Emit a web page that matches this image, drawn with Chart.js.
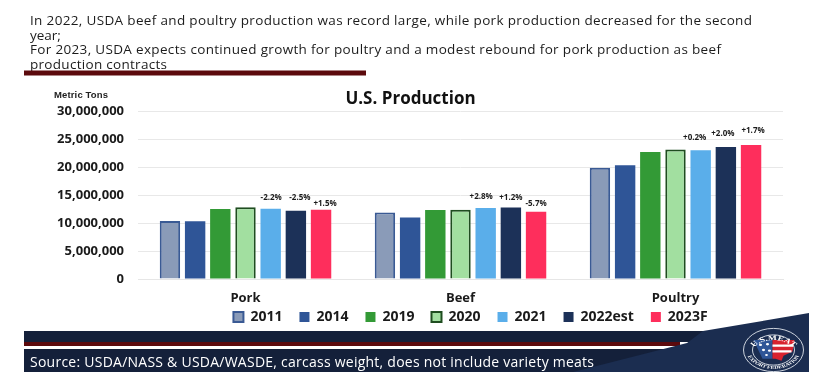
<!DOCTYPE html>
<html><head><meta charset="utf-8">
<style>
html,body{margin:0;padding:0;background:#fff;width:820px;height:380px;overflow:hidden}
#c{position:absolute;left:0;top:0;width:820px;height:380px}
#o{position:absolute;left:0;top:0;pointer-events:none}
</style>
<script src="https://cdn.jsdelivr.net/npm/chart.js@4"></script>
</head><body>
<canvas id="c" width="820" height="380"></canvas>
<svg id="o" width="820" height="380" viewBox="0 0 820 380" font-family="'Open Sans'">
  <g fill="#1c1c1c" font-size="13.5">
    <text x="30" y="25" textLength="722" lengthAdjust="spacing">In 2022, USDA beef and poultry production was record large, while pork production decreased for the second</text>
    <text x="30" y="40">year;</text>
    <text x="30" y="54" textLength="691" lengthAdjust="spacing">For 2023, USDA expects continued growth for poultry and a modest rebound for pork production as beef</text>
    <text x="30" y="69" textLength="137" lengthAdjust="spacing">production contracts</text>
  </g>
  <rect x="24" y="70.5" width="342" height="5" fill="#5c0a0d"/>
  <text x="54" y="98" font-size="9.5" font-weight="700" fill="#222" textLength="54" font-family="'Liberation Sans'">Metric Tons</text>
  <rect x="24" y="331" width="700" height="11" fill="#14203a"/>
  <rect x="24" y="342" width="656" height="4" fill="#5c0a0d"/>
  <rect x="24" y="349" width="656" height="23" fill="#14203a"/>
  <path d="M809 313 L703 331 L687 343 L573 372 L809 372 Z" fill="#1b2d50"/>
  <text x="30" y="367" font-size="14" fill="#fff" textLength="564" lengthAdjust="spacing">Source: USDA/NASS &amp; USDA/WASDE, carcass weight, does not include variety meats</text>
  <g transform="translate(773.5 350) scale(1 0.72)">
    <circle r="30" fill="none" stroke="#e8ecf2" stroke-width="1"/>
    <circle r="21" fill="none" stroke="#e8ecf2" stroke-width="1"/>
    <path d="M-20 -14 H-1 V12 H-11 Z" fill="#2f5597"/>
    <path d="M-1 -14 H21 L19 2 L10 8 L8 15 L2 12 L-1 12 Z" fill="#d8232f"/>
    <path d="M-1 -6 H20 M-1 2 H18" stroke="#fff" stroke-width="3"/>
    <g fill="#fff"><circle cx="-13" cy="-7" r="1.6"/><circle cx="-6" cy="-8" r="1.6"/><circle cx="-10" cy="0" r="1.6"/><circle cx="-4" cy="1" r="1.6"/><circle cx="-7" cy="7" r="1.4"/></g>
    <defs>
      <path id="at" d="M-24 6 A24.5 24.5 0 0 1 24 6"/>
      <path id="ab" d="M-28 -2 A28 28 0 0 0 28 -2"/>
    </defs>
    <text font-size="9.5" font-weight="700" fill="#fff" font-family="'Liberation Serif'" text-anchor="middle"><textPath href="#at" startOffset="50%">U.S.MEAT</textPath></text>
    <text font-size="6" font-weight="700" fill="#fff" font-family="'Liberation Serif'" text-anchor="middle"><textPath href="#ab" startOffset="50%">EXPORT FEDERATION</textPath></text>
  </g>
</svg>
<script>
const categories = ['Pork', 'Beef', 'Poultry'];
const tickMax = 30000000;
const tickStep = 5000000;
const series2011 = [10360000, 11900000, 19900000];
const series2014 = [10330000, 11000000, 20350000];
const series2019 = [12550000, 12350000, 22750000];
const series2020 = [12850000, 12400000, 23200000];
const series2021 = [12560000, 12700000, 23050000];
const series2022 = [12200000, 12800000, 23650000];
const series2023 = [12400000, 12050000, 24000000];
const change2021 = ['-2.2%', '+2.8%', '+0.2%'];
const change2022 = ['-2.5%', '+1.2%', '+2.0%'];
const change2023 = ['+1.5%', '-5.7%', '+1.7%'];

const mkBar = (label, data, bg, border, bw, change, dx, dy) => ({
  label, data, backgroundColor: bg, borderColor: border, borderWidth: bw,
  barPercentage: 0.81, categoryPercentage: 0.82, change, dx, dy
});

const pctLabels = {
  id: 'pctLabels',
  afterLayout(chart) {
    chart.legend.left += 79; chart.legend.right += 79;
    chart.legend.top -= 12; chart.legend.bottom -= 12;
    chart.titleBlock.left += 19; chart.titleBlock.right += 19;
  },
  afterDatasetsDraw(chart) {
    const ctx = chart.ctx;
    ctx.save();
    ctx.font = '700 8px "Open Sans"';
    ctx.fillStyle = '#1a1a1a';
    ctx.textAlign = 'center';
    ctx.textBaseline = 'middle';
    chart.data.datasets.forEach((ds, i) => {
      if (!ds.change) return;
      chart.getDatasetMeta(i).data.forEach((bar, j) => {
        ctx.fillText(ds.change[j], bar.x + ds.dx[j], bar.y - ds.dy[j]);
      });
    });
    ctx.restore();
  }
};

new Chart(document.getElementById('c'), {
  type: 'bar',
  data: {
    labels: categories,
    datasets: [
      mkBar('2011', series2011, '#8a9bb8', '#3a5a94', 2),
      mkBar('2014', series2014, '#2f5597', '#2f5597', 0),
      mkBar('2019', series2019, '#339a36', '#339a36', 0),
      mkBar('2020', series2020, '#a2dfa0', '#1f4d20', 2),
      mkBar('2021', series2021, '#5aaeea', '#5aaeea', 0, change2021, [0.5, -4.5, -6], [11, 11, 13]),
      mkBar('2022est', series2022, '#1c3158', '#1c3158', 0, change2022, [4, 0, -3], [13, 10, 13]),
      mkBar('2023F', series2023, '#fe2e5c', '#fe2e5c', 0, change2023, [4, 0, 2], [6, 8, 14])
    ]
  },
  options: {
    responsive: false,
    animation: false,
    layout: { padding: { left: 0, right: 37, top: 89, bottom: 34 } },
    scales: {
      x: {
        afterFit(s) { s.height = 26; },
        grid: { display: false },
        border: { color: '#e6e6e6' },
        ticks: { color: '#1a1a1a', font: { family: 'Open Sans', weight: '700', size: 13 }, padding: 3 }
      },
      y: {
        min: 0, max: tickMax,
        afterFit(s) { s.width = 138; },
        grid: { color: '#e8e8e8', drawTicks: false },
        border: { display: false },
        ticks: {
          stepSize: tickStep, padding: 14, color: '#1a1a1a',
          font: { family: 'Open Sans', weight: '700', size: 13 },
          callback: v => v.toLocaleString('en-US')
        }
      }
    },
    plugins: {
      title: { display: true, text: 'U.S. Production', color: '#111',
        font: { family: 'Open Sans', weight: '700', size: 17 }, padding: { top: 0, bottom: 2 } },
      legend: {
        position: 'bottom',
        labels: { boxWidth: 10, boxHeight: 10, padding: 17, color: '#1a1a1a',
          font: { family: 'Open Sans', weight: '700', size: 14 } }
      },
      tooltip: { enabled: false }
    }
  },
  plugins: [pctLabels]
});
</script>
</body></html>
